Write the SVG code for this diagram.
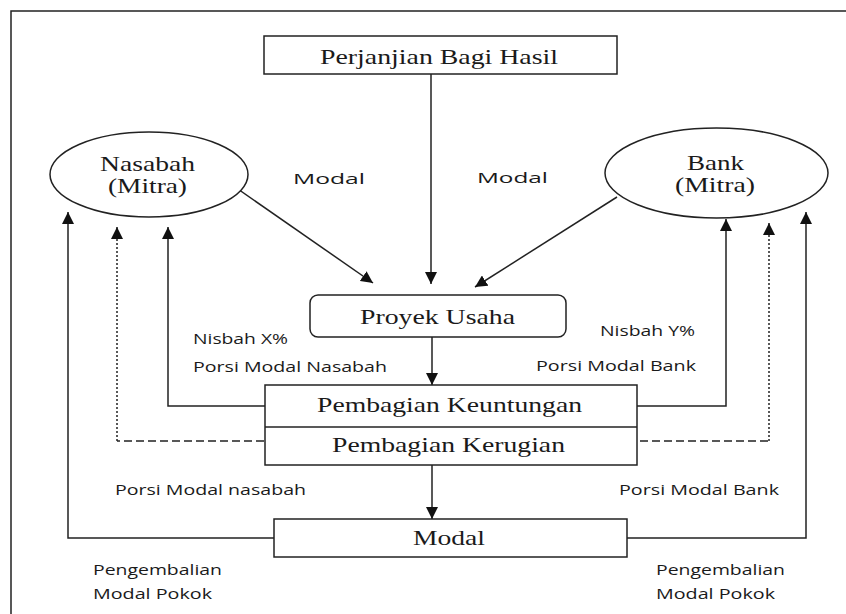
<svg xmlns="http://www.w3.org/2000/svg" width="846" height="614" viewBox="0 0 846 614">
<style>
.box{fill:#fff;stroke:#222;stroke-width:1.5}
.ln{fill:none;stroke:#222;stroke-width:1.5}
.dot{fill:none;stroke:#222;stroke-width:1.5;stroke-dasharray:2 2}
.dash{fill:none;stroke:#222;stroke-width:1.5;stroke-dasharray:8 4}
.sr{font-family:"Liberation Serif","Times New Roman",serif;font-size:21px;fill:#1a1a1a}
.ss{font-family:"Open Sans","Liberation Sans",sans-serif;font-size:15px;fill:#1a1a1a}
</style>
<defs>
<marker id="ah" markerUnits="userSpaceOnUse" markerWidth="12" markerHeight="12" refX="12" refY="6" orient="auto">
<path d="M0,0 L12,6 L0,12 z" fill="#111"/>
</marker>
</defs>
<rect width="846" height="614" fill="#fff"/>
<path class="ln" d="M11,614 V11 H846"/>

<g id="connectors">
<line class="ln" x1="431" y1="74" x2="431" y2="284" marker-end="url(#ah)"/>
<line class="ln" x1="235" y1="187" x2="373" y2="283" marker-end="url(#ah)"/>
<line class="ln" x1="617" y1="197" x2="475" y2="287" marker-end="url(#ah)"/>
<line class="ln" x1="432" y1="337" x2="432" y2="385" marker-end="url(#ah)"/>
<line class="ln" x1="432" y1="465" x2="432" y2="519" marker-end="url(#ah)"/>
<polyline class="ln" points="265,406 168,406 168,227" marker-end="url(#ah)"/>
<line class="dash" x1="264" y1="441" x2="117" y2="441"/>
<line class="dot" x1="117" y1="441" x2="117" y2="227" marker-end="url(#ah)"/>
<polyline class="ln" points="274,538 68,538 68,212" marker-end="url(#ah)"/>
<polyline class="ln" points="637,406 726,406 726,219" marker-end="url(#ah)"/>
<line class="dash" x1="640" y1="441" x2="769" y2="441"/>
<line class="dot" x1="769" y1="441" x2="769" y2="223" marker-end="url(#ah)"/>
<polyline class="ln" points="627,538 806,538 806,212" marker-end="url(#ah)"/>
</g>

<g id="perjanjian">
<rect class="box" x="264" y="36" width="353" height="38"/>
<text class="sr" x="320" y="64" font-size="22" textLength="238" lengthAdjust="spacingAndGlyphs">Perjanjian Bagi Hasil</text>
</g>

<g id="nasabah">
<ellipse class="box" cx="149" cy="174.5" rx="99" ry="42.5"/>
<text class="sr" x="100" y="171" textLength="95" lengthAdjust="spacingAndGlyphs">Nasabah</text>
<text class="sr" x="108" y="193" textLength="79" lengthAdjust="spacingAndGlyphs">(Mitra)</text>
</g>

<g id="bank">
<ellipse class="box" cx="716.5" cy="173" rx="111.5" ry="45"/>
<text class="sr" x="687" y="170" textLength="57" lengthAdjust="spacingAndGlyphs">Bank</text>
<text class="sr" x="675" y="192" textLength="80" lengthAdjust="spacingAndGlyphs">(Mitra)</text>
</g>

<g id="proyek">
<rect class="box" x="310" y="295" width="256" height="42" rx="8"/>
<text class="sr" x="360" y="324" textLength="155" lengthAdjust="spacingAndGlyphs">Proyek Usaha</text>
</g>

<g id="pembagian">
<rect class="box" x="265" y="385" width="372" height="80"/>
<line class="ln" x1="265" y1="427" x2="637" y2="427"/>
<text class="sr" x="317" y="412" textLength="265" lengthAdjust="spacingAndGlyphs">Pembagian Keuntungan</text>
<text class="sr" x="332" y="452" textLength="233" lengthAdjust="spacingAndGlyphs">Pembagian Kerugian</text>
</g>

<g id="modal">
<rect class="box" x="274" y="519" width="353" height="38"/>
<text class="sr" x="413" y="545" textLength="72" lengthAdjust="spacingAndGlyphs">Modal</text>
</g>

<g id="labels">
<text class="ss" x="293" y="184" textLength="72" lengthAdjust="spacingAndGlyphs">Modal</text>
<text class="ss" x="477" y="183" textLength="71" lengthAdjust="spacingAndGlyphs">Modal</text>
<text class="ss" x="193" y="344" textLength="95" lengthAdjust="spacingAndGlyphs">Nisbah X%</text>
<text class="ss" x="193" y="372" textLength="194" lengthAdjust="spacingAndGlyphs">Porsi Modal Nasabah</text>
<text class="ss" x="600" y="336" textLength="95" lengthAdjust="spacingAndGlyphs">Nisbah Y%</text>
<text class="ss" x="536" y="371" textLength="160" lengthAdjust="spacingAndGlyphs">Porsi Modal Bank</text>
<text class="ss" x="115" y="495" textLength="191" lengthAdjust="spacingAndGlyphs">Porsi Modal nasabah</text>
<text class="ss" x="619" y="495" textLength="160" lengthAdjust="spacingAndGlyphs">Porsi Modal Bank</text>
<text class="ss" x="93" y="575" textLength="129" lengthAdjust="spacingAndGlyphs">Pengembalian</text>
<text class="ss" x="93" y="599" textLength="119" lengthAdjust="spacingAndGlyphs">Modal Pokok</text>
<text class="ss" x="656" y="575" textLength="129" lengthAdjust="spacingAndGlyphs">Pengembalian</text>
<text class="ss" x="656" y="599" textLength="119" lengthAdjust="spacingAndGlyphs">Modal Pokok</text>
</g>
</svg>
